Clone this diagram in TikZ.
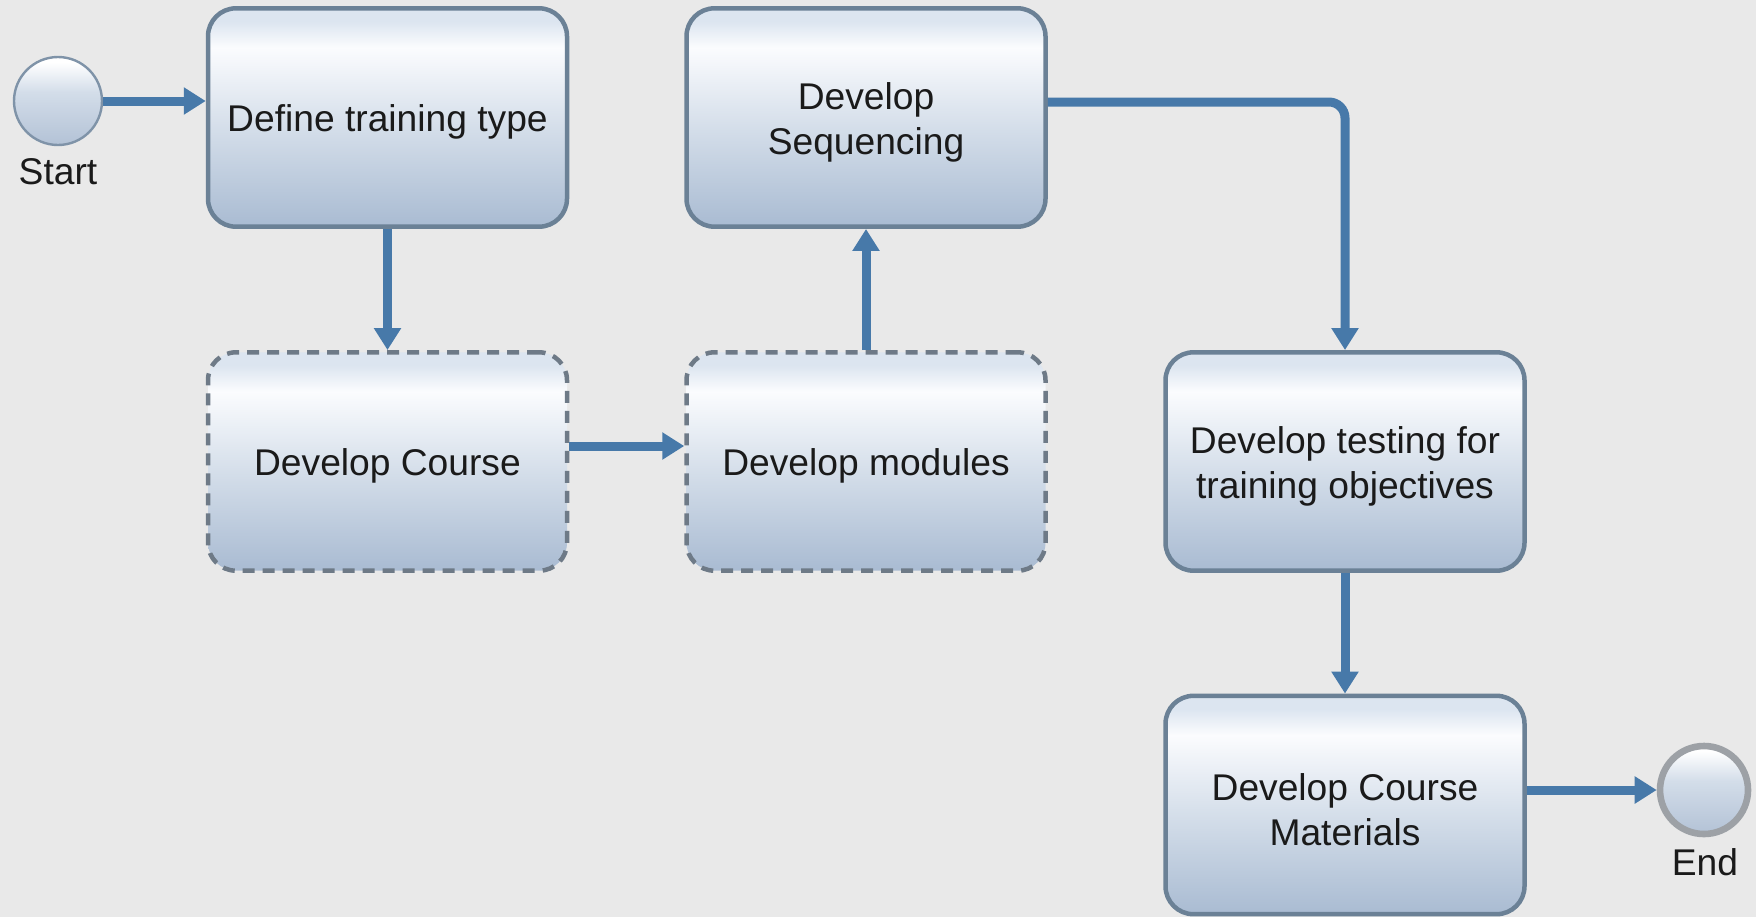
\documentclass[tikz,border=0pt]{standalone}
\usepackage{fontspec}
\setmainfont{Liberation Sans}
\usetikzlibrary{arrows.meta,calc}

\definecolor{bgc}{HTML}{E9E9E9}
\definecolor{edgec}{HTML}{6B8196}
\definecolor{dashc}{HTML}{6E7A87}
\definecolor{flowc}{HTML}{4779A9}
\definecolor{shTop}{HTML}{DCE5F0}
\definecolor{shHi}{HTML}{FBFCFE}
\definecolor{shMid}{HTML}{D3DDE9}
\definecolor{shBot}{HTML}{A9BBD2}
\definecolor{evBot}{HTML}{B3C2D6}
\definecolor{evEdge}{HTML}{7F93A8}
\definecolor{endEdge}{HTML}{9DA1A6}
\definecolor{txtc}{HTML}{1A1A1A}

% task fill: pale top rim, bright band, then darker blue-grey towards the bottom
\pgfdeclareverticalshading{taskshade}{100bp}{color(0bp)=(shBot); color(25bp)=(shBot); color(47bp)=(shMid); color(66bp)=(shHi); color(72bp)=(shTop); color(75bp)=(shTop); color(100bp)=(shTop)}
\pgfdeclareverticalshading{eventshade}{100bp}{color(0bp)=(evBot); color(25bp)=(evBot); color(55bp)=(shMid); color(72bp)=(white); color(100bp)=(white)}

\tikzset{
  task/.style={rectangle, rounded corners=14pt, minimum width=179.5pt, minimum height=109.2pt,
    inner sep=0pt, shading=taskshade, draw=edgec, line width=2.25pt},
  subtask/.style={task, draw=dashc, dash pattern=on 6pt off 4pt},
  tasktext/.style={text=txtc, font=\fontsize{18.6pt}{22.5pt}\selectfont, align=center,
    inner sep=0pt, yshift=-2.25pt},
  event/.style={circle, minimum size=44pt, inner sep=0pt, shading=eventshade},
  startev/.style={event, draw=evEdge, line width=1.2pt},
  endev/.style={event, draw=endEdge, line width=3.3pt},
  evlabel/.style={text=txtc, font=\fontsize{18.6pt}{22.5pt}\selectfont, inner sep=0pt},
  flow/.style={draw=flowc, line width=4.5pt, -{Triangle[length=11pt,width=13pt]}},
}

\begin{document}
\begin{tikzpicture}[x=0.5pt, y=-0.5pt]
  \useasboundingbox (0,0) rectangle (1756,917);
  \fill[bgc] (0,0) rectangle (1756,917);

  % events
  \node[startev] (start) at (58,101) {};
  \node[evlabel] (startlbl) at (58,172) {Start};
  \node[endev] (end) at (1704,790) {};
  \node[evlabel] (endlbl) at (1705,862) {End};

  % tasks
  \node[task, label={[tasktext]center:Define training type}] (define) at (387.5,117.5) {};
  \node[task, label={[tasktext]center:Develop\\Sequencing}] (seq) at (866,117.5) {};
  \node[subtask, label={[tasktext]center:Develop Course}] (course) at (387.5,461.5) {};
  \node[subtask, label={[tasktext]center:Develop modules}] (modules) at (866,461.5) {};
  \node[task, label={[tasktext]center:Develop testing for\\training objectives}] (test) at (1345,461.5) {};
  \node[task, label={[tasktext]center:Develop Course\\Materials}] (mat) at (1345,805) {};

  % sequence flows
  \draw[flow] (start.east) -- (start.east -| define.west);
  \draw[flow] (define.south) -- (course.north);
  \draw[flow] ([yshift=7.75pt]course.east) -- ([yshift=7.75pt]modules.west);
  \draw[flow] (modules.north) -- (seq.south);
  \draw[flow, rounded corners=8pt] ([yshift=7.75pt]seq.east) -| (test.north);
  \draw[flow] (test.south) -- (mat.north);
  \draw[flow] (mat.east |- end.west) -- (end.west);
\end{tikzpicture}
\end{document}
